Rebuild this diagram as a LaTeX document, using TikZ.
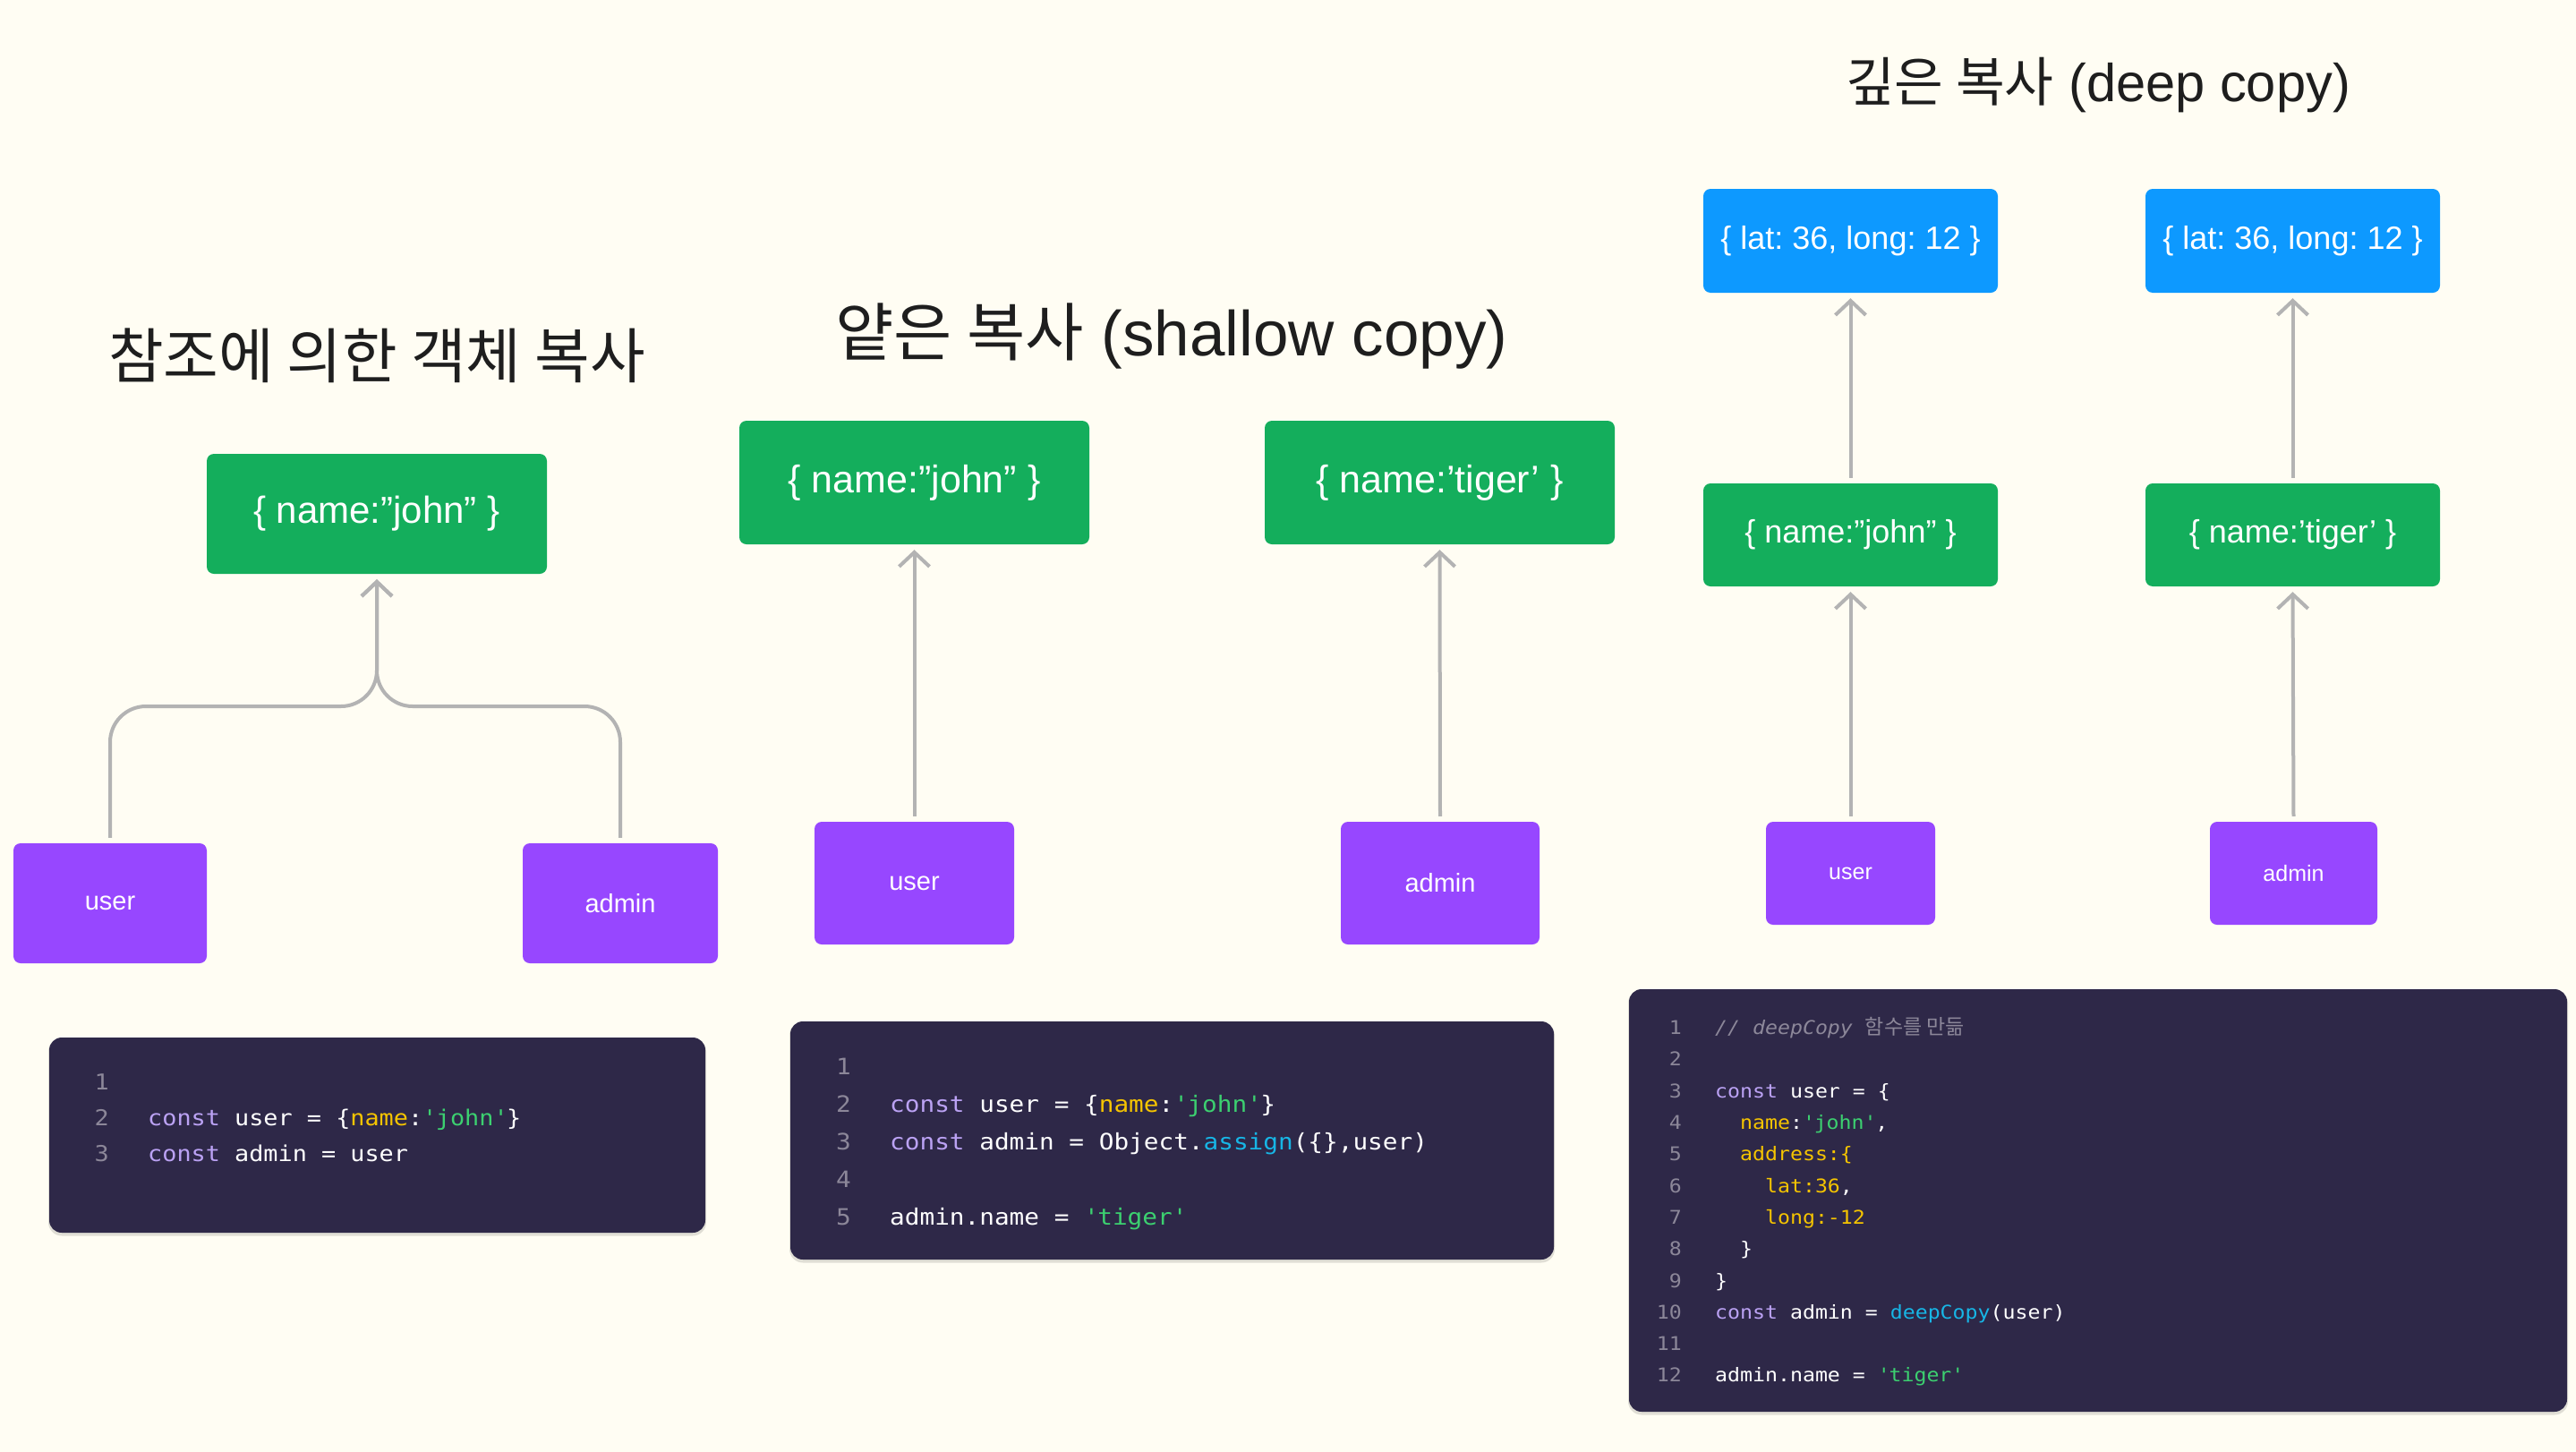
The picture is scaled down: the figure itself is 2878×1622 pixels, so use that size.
\documentclass[tikz,border=0pt]{standalone}
\usepackage{fontspec}
\setmainfont{Liberation Sans}
\newfontfamily\krfont{Noto Sans CJK KR}
\newfontfamily\codefont[FakeStretch=1.1]{DejaVu Sans Mono}
\usetikzlibrary{arrows.meta}
\definecolor{bgcol}{HTML}{FFFDF3}
\definecolor{figgreen}{HTML}{14AE5C}
\definecolor{figpurple}{HTML}{9747FF}
\definecolor{figblue}{HTML}{0D99FF}
\definecolor{codebgcol}{HTML}{2E2848}
\definecolor{arrowgray}{HTML}{B3B3B3}
\definecolor{titlecol}{HTML}{1E1E1E}
\definecolor{ckw}{HTML}{BBA2F4}
\definecolor{cyel}{HTML}{F5C400}
\definecolor{cgrn}{HTML}{3CD070}
\definecolor{ccyan}{HTML}{17B6E6}
\definecolor{cnum}{HTML}{8C8799}
\newcommand\codeK[1]{{\color{ckw}#1}}
\newcommand\codeY[1]{{\color{cyel}#1}}
\newcommand\codeG[1]{{\color{cgrn}#1}}
\newcommand\codeB[1]{{\color{ccyan}#1}}
\newcommand\qq{\textquotesingle}
\begin{document}
\frenchspacing
\begin{tikzpicture}[x=1pt,y=-1pt,
  box/.style={rounded corners=8pt, inner sep=0pt, text=white, align=center},
  greenbox/.style={box, fill=figgreen},
  purplebox/.style={box, fill=figpurple},
  bluebox/.style={box, fill=figblue},
  titletext/.style={text=titlecol, inner sep=0pt},
  codeblock/.style={fill=codebgcol, rounded corners=14pt, inner sep=0pt},
  codeshadow/.style={fill=black, opacity=0.12, rounded corners=15pt, inner sep=0pt},
  conn/.style={draw=arrowgray, line width=4pt, shorten <=6pt, shorten >=6pt,
    -{Straight Barb[length=16pt,width=34pt]}},
  linenum/.style={text=cnum, anchor=mid east, inner sep=0pt},
  codeline/.style={text=white, anchor=mid west, inner sep=0pt},
  codeA/.style={font=\codefont\fontsize{24.4}{26}\selectfont},
  codeBsz/.style={font=\codefont\fontsize{25.2}{27}\selectfont},
  codeC/.style={font=\codefont\fontsize{21.1}{23}\selectfont},
]
\useasboundingbox (0,0) rectangle (2878,1622);
\fill[bgcol] (0,0) rectangle (2878,1622);

% ---------------- Section 1 ----------------
\node[titletext, font=\krfont\fontsize{67}{70}\selectfont] (t1) at (421,397) {참조에 의한 객체 복사};
\node[greenbox, minimum width=380pt, minimum height=134pt, font=\fontsize{42}{50}\selectfont] (obj1) at (421,574) {\{ name:”john” \}};
\node[purplebox, minimum width=216pt, minimum height=134pt, font=\fontsize{29}{34}\selectfont] (user1) at (123,1009) {user};
\node[purplebox, minimum width=218pt, minimum height=134pt, font=\fontsize{29}{34}\selectfont] (admin1) at (693,1009) {admin};
\coordinate (j1) at (421,789);
\draw[conn, rounded corners=40pt] (user1.north) |- (j1) -- (obj1.south);
\draw[conn, rounded corners=40pt] (admin1.north) |- (j1) -- (obj1.south);

\node[codeshadow, minimum width=735pt, minimum height=221pt] at (421.5,1270) {};
\node[codeblock, minimum width=733pt, minimum height=218pt] (code1) at (421.5,1268) {};
\begin{scope}[every node/.append style={codeA}]
\node[linenum] (c1n1) at (122,1215) {1};
\node[linenum] (c1n2) at (122,1255) {2};
\node[linenum] (c1n3) at (122,1295) {3};
\node[codeline] (c1l2) at (165,1255) {\codeK{const} user = \{\codeY{name}:\codeG{\qq john\qq}\}};
\node[codeline] (c1l3) at (165,1295) {\codeK{const} admin = user};
\end{scope}

% ---------------- Section 2 ----------------
\node[titletext, font=\fontsize{71}{75}\selectfont] (t2) at (1309,376) {{\krfont 얕은 복사} (shallow copy)};
\node[greenbox, minimum width=391pt, minimum height=138pt, font=\fontsize{43}{50}\selectfont] (obj2a) at (1021.5,539) {\{ name:”john” \}};
\node[greenbox, minimum width=391pt, minimum height=138pt, font=\fontsize{43}{50}\selectfont] (obj2b) at (1608.5,539) {\{ name:’tiger’ \}};
\node[purplebox, minimum width=223pt, minimum height=137pt, font=\fontsize{29}{34}\selectfont] (user2) at (1021.5,986.5) {user};
\node[purplebox, minimum width=222pt, minimum height=137pt, font=\fontsize{29}{34}\selectfont] (admin2) at (1609,986.5) {admin};
\draw[conn] (user2.north) -- (obj2a.south);
\draw[conn] (admin2.north) -- (obj2b.south);

\node[codeshadow, minimum width=855pt, minimum height=269pt] at (1309.5,1276) {};
\node[codeblock, minimum width=853pt, minimum height=266pt] (code2) at (1309.5,1274) {};
\begin{scope}[every node/.append style={codeBsz}]
\node[linenum] (c2n1) at (951,1198) {1};
\node[linenum] (c2n2) at (951,1240) {2};
\node[linenum] (c2n3) at (951,1282) {3};
\node[linenum] (c2n4) at (951,1324) {4};
\node[linenum] (c2n5) at (951,1366) {5};
\node[codeline] (c2l2) at (994,1240) {\codeK{const} user = \{\codeY{name}:\codeG{\qq john\qq}\}};
\node[codeline] (c2l3) at (994,1282) {\codeK{const} admin = Object.\codeB{assign}(\{\},user)};
\node[codeline] (c2l5) at (994,1366) {admin.name = \codeG{\qq tiger\qq}};
\end{scope}

% ---------------- Section 3 ----------------
\node[titletext, font=\fontsize{59.6}{63}\selectfont] (t3) at (2344,95) {{\krfont 깊은 복사} (deep copy)};
\node[bluebox, minimum width=329pt, minimum height=116pt, font=\fontsize{36}{42}\selectfont] (addr3a) at (2067.5,269) {\{ lat: 36, long: 12 \}};
\node[bluebox, minimum width=329pt, minimum height=116pt, font=\fontsize{36}{42}\selectfont] (addr3b) at (2561.5,269) {\{ lat: 36, long: 12 \}};
\node[greenbox, minimum width=329pt, minimum height=115pt, font=\fontsize{36}{42}\selectfont] (obj3a) at (2067.5,597.5) {\{ name:”john” \}};
\node[greenbox, minimum width=329pt, minimum height=115pt, font=\fontsize{36}{42}\selectfont] (obj3b) at (2561.5,597.5) {\{ name:’tiger’ \}};
\node[purplebox, minimum width=189pt, minimum height=115pt, font=\fontsize{25}{30}\selectfont] (user3) at (2067.5,975.5) {user};
\node[purplebox, minimum width=187pt, minimum height=115pt, font=\fontsize{25}{30}\selectfont] (admin3) at (2562.5,975.5) {admin};
\draw[conn] (user3.north) -- (obj3a.south);
\draw[conn] (obj3a.north) -- (addr3a.south);
\draw[conn] (admin3.north) -- (obj3b.south);
\draw[conn] (obj3b.north) -- (addr3b.south);

\node[codeshadow, minimum width=1050pt, minimum height=475pt] at (2344,1343) {};
\node[codeblock, minimum width=1048pt, minimum height=472pt] (code3) at (2344,1341) {};
\begin{scope}[every node/.append style={codeC}]
\foreach \i in {1,...,12} {
  \node[linenum] (c3n\i) at (1879,{1153+35.3*(\i-1)}) {\i};
}
\node[codeline, text=cnum] (c3l1) at (1916,1153) {\itshape // deepCopy {\upshape\krfont\fontsize{23}{25}\selectfont 함수를 만듦}};
\node[codeline] (c3l3) at (1916,{1153+35.3*2}) {\codeK{const} user = \{};
\node[codeline] (c3l4) at (1916,{1153+35.3*3}) {\phantom{xx}\codeY{name}:\codeG{\qq john\qq},};
\node[codeline] (c3l5) at (1916,{1153+35.3*4}) {\phantom{xx}\codeY{address:\{}};
\node[codeline] (c3l6) at (1916,{1153+35.3*5}) {\phantom{xxxx}\codeY{lat:36},};
\node[codeline] (c3l7) at (1916,{1153+35.3*6}) {\phantom{xxxx}\codeY{long:-12}};
\node[codeline] (c3l8) at (1916,{1153+35.3*7}) {\phantom{xx}\}};
\node[codeline] (c3l9) at (1916,{1153+35.3*8}) {\}};
\node[codeline] (c3l10) at (1916,{1153+35.3*9}) {\codeK{const} admin = \codeB{deepCopy}(user)};
\node[codeline] (c3l12) at (1916,{1153+35.3*11}) {admin.name = \codeG{\qq tiger\qq}};
\end{scope}
\end{tikzpicture}
\end{document}
